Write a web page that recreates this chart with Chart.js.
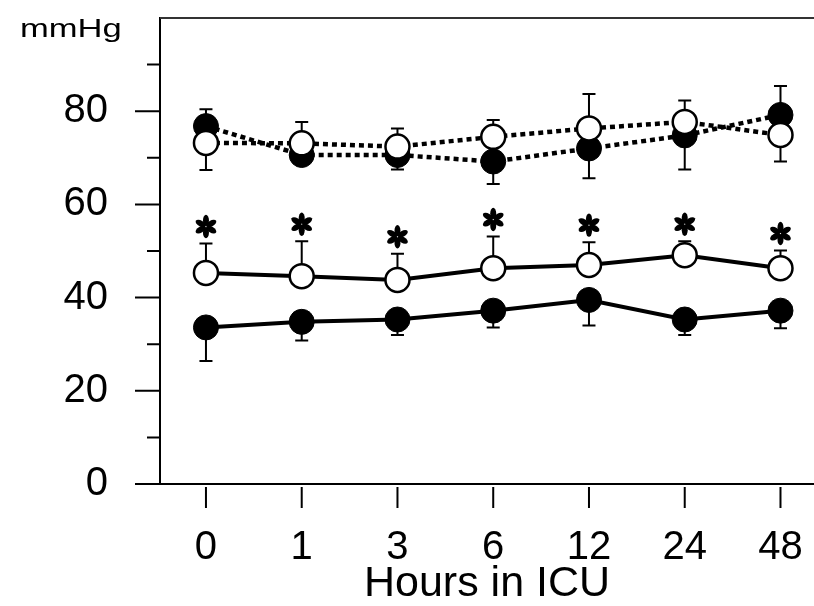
<!DOCTYPE html>
<html><head><meta charset="utf-8">
<script src="https://cdn.jsdelivr.net/npm/chart.js@4"></script>
<style>html,body{margin:0;padding:0;background:#fff}</style>
</head><body>
<canvas id="c" width="814" height="606"></canvas>
<script>
// ---- data ----
const categories = ['0', '1', '3', '6', '12', '24', '48'];
const filledDotted = [76.8, 70.6, 70.6, 69.2, 72.0, 74.8, 79.2];
const openDotted   = [73.2, 73.1, 72.4, 74.5, 76.3, 77.7, 74.9];
const openSolid    = [45.3, 44.6, 43.8, 46.3, 47.0, 49.1, 46.3];
const filledSolid  = [33.6, 34.8, 35.3, 37.2, 39.5, 35.3, 37.2];
// error bar end values (null = not visible)
const filledDottedErr = [80.4, null, 67.5, 64.4, 65.6, 67.5, 85.4];
const openDottedErr   = [67.4, 77.7, 76.3, 78.1, 83.7, 82.3, 69.2];
const openSolidErr    = [51.6, 52.1, 49.4, 53.1, 51.9, 52.1, 50.1];
const filledSolidErr  = [26.4, 30.8, 32.0, 33.6, 34.0, 32.0, 33.4];
const significant     = [true, true, true, true, true, true, true];
const yMajorTicks = [0, 20, 40, 60, 80];
const yMinorTicks = [10, 30, 50, 70, 90];
const yUnit = 'mmHg';
const xTitle = 'Hours in ICU';

const FONT = "'Liberation Sans', Arial, Helvetica, sans-serif";
const toPts = arr => arr.map((v, i) => ({x: i, y: v}));
const zeroPad = s => { s.paddingTop = 0; s.paddingBottom = 0; s.paddingLeft = 0; s.paddingRight = 0; };

const errorPlugin = {
  id: 'errs',
  beforeDatasetsDraw(chart) {
    const ctx = chart.ctx, xs = chart.scales.x, ys = chart.scales.y;
    const sets = [[filledDotted, filledDottedErr], [openDotted, openDottedErr],
                  [openSolid, openSolidErr], [filledSolid, filledSolidErr]];
    ctx.save();
    ctx.strokeStyle = '#000';
    ctx.lineWidth = 2;
    sets.forEach(([vals, errs]) => {
      errs.forEach((e, i) => {
        if (e === null) return;
        const px = xs.getPixelForValue(i);
        const p0 = ys.getPixelForValue(vals[i]);
        const p1 = ys.getPixelForValue(e);
        ctx.beginPath();
        ctx.moveTo(px, p0); ctx.lineTo(px, p1);
        ctx.moveTo(px - 6.5, p1); ctx.lineTo(px + 6.5, p1);
        ctx.stroke();
      });
    });
    ctx.restore();
  },
  afterDraw(chart) {
    const ctx = chart.ctx, xs = chart.scales.x, ys = chart.scales.y, ca = chart.chartArea;
    ctx.save();
    ctx.strokeStyle = '#000';
    ctx.lineWidth = 2;
    ctx.beginPath();
    yMajorTicks.forEach(v => { const py = ys.getPixelForValue(v); ctx.moveTo(ca.left - 25, py); ctx.lineTo(ca.left, py); });
    yMinorTicks.forEach(v => { const py = ys.getPixelForValue(v); ctx.moveTo(ca.left - 13, py); ctx.lineTo(ca.left, py); });
    categories.forEach((c, i) => { const px = xs.getPixelForValue(i); ctx.moveTo(px, ca.bottom + 3); ctx.lineTo(px, ca.bottom + 24); });
    ctx.stroke();
    // top frame line
    ctx.strokeStyle = '#333';
    ctx.beginPath();
    ctx.moveTo(ca.left, ca.top); ctx.lineTo(chart.width, ca.top);
    ctx.stroke();
    // asterisks
    ctx.fillStyle = '#000';
    significant.forEach((s, i) => {
      if (!s) return;
      const cx = xs.getPixelForValue(i);
      const cy = ys.getPixelForValue(openSolidErr[i]) - 17;
      for (let k = 0; k < 6; k++) {
        const a = k * Math.PI / 3 - Math.PI / 2;
        ctx.beginPath();
        ctx.ellipse(cx + Math.cos(a) * 6.1, cy + Math.sin(a) * 6.1, 5.6, 3.0, a, 0, Math.PI * 2);
        ctx.fill();
      }
    });
    // unit label
    ctx.font = '26px ' + FONT;
    ctx.textBaseline = 'alphabetic';
    ctx.textAlign = 'left';
    ctx.translate(20, 37);
    ctx.scale(1.33, 1);
    ctx.fillText(yUnit, 0, 0);
    ctx.restore();
  }
};

const dotted = {borderDash: [5, 4], borderWidth: 4.5, borderCapStyle: 'butt'};
new Chart(document.getElementById('c'), {
  type: 'line',
  data: {
    datasets: [
      Object.assign({data: toPts(openDotted), order: 0, borderColor: '#000', pointBackgroundColor: '#fff', pointBorderColor: '#000', pointBorderWidth: 2.5, pointRadius: 12}, dotted),
      Object.assign({data: toPts(filledDotted), order: 1, borderColor: '#000', pointBackgroundColor: '#000', pointBorderColor: '#000', pointBorderWidth: 1, pointRadius: 12.5}, dotted),
      {data: toPts(openSolid), order: 2, borderColor: '#000', borderWidth: 4, pointBackgroundColor: '#fff', pointBorderColor: '#000', pointBorderWidth: 2.5, pointRadius: 12},
      {data: toPts(filledSolid), order: 3, borderColor: '#000', borderWidth: 4, pointBackgroundColor: '#000', pointBorderColor: '#000', pointBorderWidth: 1, pointRadius: 12.5}
    ]
  },
  options: {
    responsive: false,
    animation: false,
    devicePixelRatio: 1,
    layout: {autoPadding: false, padding: {top: 18, right: 0, left: 0, bottom: 0}},
    plugins: {legend: {display: false}, tooltip: {enabled: false}},
    elements: {line: {tension: 0}},
    scales: {
      x: {
        type: 'linear', min: -0.48, max: 6.35,
        afterBuildTicks: s => { s.ticks = categories.map((c, i) => ({value: i})); },
        afterFit: s => { s.height = 122; zeroPad(s); },
        grid: {display: false, drawTicks: false},
        border: {display: true, color: '#000', width: 2},
        ticks: {callback: v => categories[v], font: {family: FONT, size: 40}, color: '#000', padding: 40, autoSkip: false, maxRotation: 0},
        title: {display: true, text: xTitle, font: {family: FONT, size: 43}, color: '#000', padding: {top: 0, bottom: -4}}
      },
      y: {
        min: 0, max: 100,
        afterBuildTicks: s => { s.ticks = yMajorTicks.map(v => ({value: v})); },
        afterFit: s => { s.width = 160; zeroPad(s); },
        grid: {display: false, drawTicks: false},
        border: {display: true, color: '#000', width: 2},
        ticks: {font: {family: FONT, size: 40}, color: '#000', padding: 52}
      }
    }
  },
  plugins: [errorPlugin]
});
</script>
</body></html>
